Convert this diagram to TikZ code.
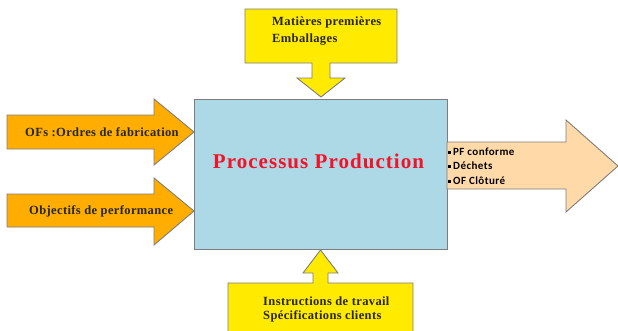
\documentclass[tikz,border=0pt]{standalone}
\usepackage{fontspec}
\setmainfont{Liberation Serif}
\newfontfamily\spacedserif[LetterSpace=3]{Liberation Serif}
\newfontfamily\titleserif[LetterSpace=5]{Liberation Serif}
\newfontfamily\calib[LetterSpace=4]{Carlito}
\definecolor{procblue}{RGB}{173,216,230}
\definecolor{inorange}{RGB}{255,173,0}
\definecolor{outpeach}{RGB}{255,218,168}
\definecolor{calloutyellow}{RGB}{255,234,0}
\definecolor{edgegray}{RGB}{125,125,125}
\definecolor{titlered}{RGB}{240,20,40}
\tikzset{
  shapeline/.style={draw=edgegray, line width=0.9pt, line join=miter},
  lbl/.style={inner sep=0pt, font=\spacedserif\fontsize{12.5}{14.5}\selectfont\bfseries, text=black!85},
  outlbl/.style={inner sep=0pt, anchor=west, font=\calib\fontsize{11}{12}\selectfont\bfseries}
}
\begin{document}
\begin{tikzpicture}[x=1pt, y=-1pt]
\useasboundingbox (0,0) rectangle (618,330);

% central process block
\draw[shapeline, fill=procblue] (194,99) rectangle (447,249);
\node[inner sep=0pt, font=\titleserif\fontsize{21}{24}\selectfont\bfseries, text=titlered] (proc) at (318.5,161) {Processus Production};

% inputs from the left
\draw[shapeline, fill=inorange] (7,115) -- (154,115) -- (154,99) -- (194,132) -- (154,165) -- (154,149) -- (7,149) -- cycle;
\node[lbl, anchor=west] (ofs) at (25,132) {OFs :Ordres de fabrication};
\draw[shapeline, fill=inorange] (7,194) -- (154,194) -- (154,178) -- (194,211) -- (154,245) -- (154,227) -- (7,227) -- cycle;
\node[lbl, anchor=west] (obj) at (29,211) {Objectifs de performance};

% supplies from the top
\draw[shapeline, fill=calloutyellow] (245,9) -- (397,9) -- (397,63) -- (330,63) -- (330,78) -- (345,78) -- (321,97) -- (297,78) -- (312,78) -- (312,63) -- (245,63) -- cycle;
\node[lbl, anchor=west] (mat) at (272,22) {Matières premières};
\node[lbl, anchor=west] (emb) at (272,40) {Emballages};

% controls from the bottom
\draw[shapeline, fill=calloutyellow] (228,340) -- (228,283) -- (313,283) -- (313,273) -- (303,273) -- (320.5,250) -- (338,273) -- (328,273) -- (328,283) -- (413,283) -- (413,340);
\node[lbl, anchor=west] (instr) at (263,301.5) {Instructions de travail};
\node[lbl, anchor=west] (spec) at (263,316) {Spécifications clients};

% outputs to the right
\draw[shapeline, fill=outpeach] (447,142) -- (566,142) -- (566,120) -- (618,166) -- (566,212) -- (566,189) -- (447,189) -- cycle;
\foreach \y/\t/\n in {152/PF conforme/pf, 166/Déchets/dech, 181/OF Clôturé/ofc}{
  \fill (447.5,\y-1.5) rectangle +(3,3);
  \node[outlbl] (\n) at (453,\y) {\t};
}
\end{tikzpicture}
\end{document}
